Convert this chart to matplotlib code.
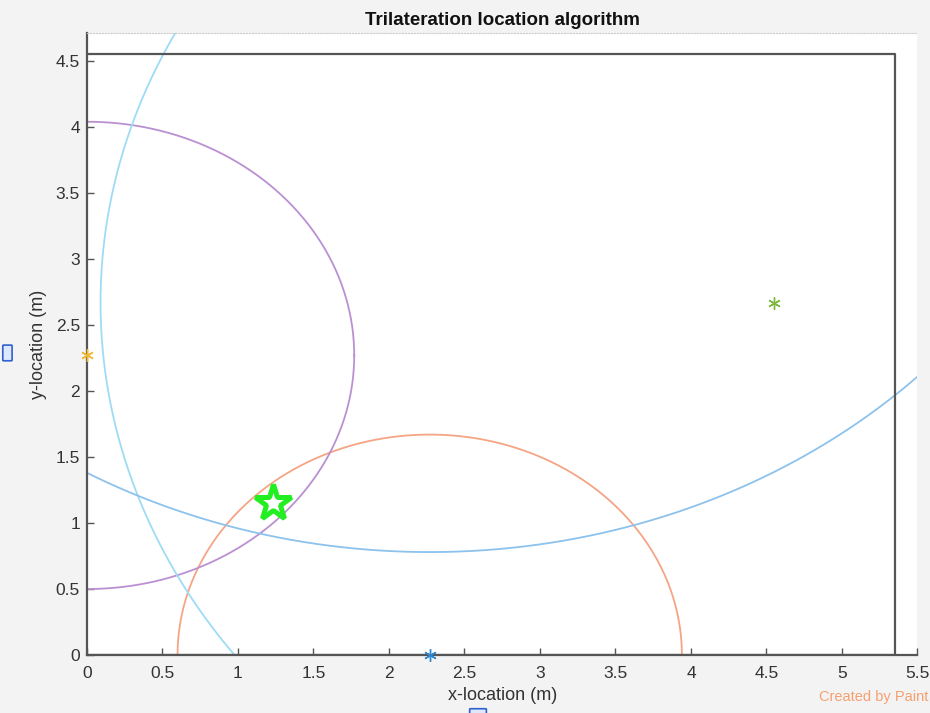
import numpy as np
import matplotlib
matplotlib.use("Agg")
import matplotlib.pyplot as plt
from matplotlib.patches import FancyBboxPatch

plt.rcParams['font.family'] = ['Liberation Sans Narrow', 'Liberation Sans', 'DejaVu Sans']

# Anchors (x, y) and measured ranges (circle radii)
anchor_x = [2.27, 0.00, 4.55, 2.27]
anchor_y = [0.00, 2.27, 2.67, 5.37]
radii = [1.67, 1.77, 4.46, 4.59]
anchor_colors = ['#2f86d0', '#f0b830', '#7fb840', None]
circle_colors = ['#f5a585', '#bb90d2', '#9edcf6', '#8cc2ec']

# Estimated position
est_x, est_y = 1.23, 1.15

# Room boundary
room_w, room_h = 5.35, 4.55

xticks = [0, 0.5, 1, 1.5, 2, 2.5, 3, 3.5, 4, 4.5, 5, 5.5]
yticks = [0, 0.5, 1, 1.5, 2, 2.5, 3, 3.5, 4, 4.5]

fig = plt.figure(figsize=(9.3, 7.13), dpi=100, facecolor='#f3f3f3')
ax = fig.add_axes([0.0935, 0.0813, 0.893, 0.872])
ax.set_facecolor('white')

theta = np.linspace(0, 2 * np.pi, 1000)
for cx, cy, r, cc in zip(anchor_x, anchor_y, radii, circle_colors):
    ax.plot(cx + r * np.cos(theta), cy + r * np.sin(theta), color=cc, lw=1.3)

asterisk = (6, 2, 0)
for cx, cy, ac in zip(anchor_x, anchor_y, anchor_colors):
    if ac is not None:
        ax.plot(cx, cy, marker=asterisk, color=ac, ms=9, mew=1.0, clip_on=False, zorder=5)

# room rectangle
ax.plot([0, room_w, room_w, 0], [room_h, room_h, 0, 0], color='#555555', lw=1.6, zorder=4)

ax.plot(est_x, est_y, marker='*', ms=27, mfc='none', mec='#22ee22', mew=3.6, zorder=6)

ax.set_xlim(0, 5.5)
ax.set_ylim(0, 4.71)
ax.set_xticks(xticks)
ax.set_xticklabels([f'{t:g}' for t in xticks])
ax.set_yticks(yticks)
ax.set_yticklabels([f'{t:g}' for t in yticks])
ax.tick_params(direction='in', length=5, width=1, colors='#555555', labelcolor='#333333', labelsize=12.5)
ax.tick_params(axis='x', pad=8)
ax.tick_params(axis='y', pad=5)

for s in ['left', 'bottom']:
    ax.spines[s].set_color('#555555')
    ax.spines[s].set_linewidth(1.6)
ax.spines['right'].set_visible(False)
ax.spines['top'].set_color('#cccccc')
ax.spines['top'].set_linestyle(':')
ax.spines['top'].set_linewidth(0.8)

ax.set_title('Trilateration location algorithm', fontsize=13.5, fontweight='bold', color='#111111', pad=6)
ax.set_xlabel('x-location (m)', fontsize=13, color='#333333', labelpad=4)
ax.set_ylabel('y-location (m)', fontsize=13, color='#333333', labelpad=6)

fig.text(0.998, 0.012, 'Created by Paint', ha='right', va='bottom', fontsize=10.5, color='#f5a070')

# selection handles
fig.patches.append(FancyBboxPatch((0.004, 0.495), 0.008, 0.02, boxstyle='round,pad=0.001',
                                  transform=fig.transFigure, fc='#dde8ff', ec='#3060d0', lw=1.2))
fig.patches.append(FancyBboxPatch((0.506, -0.01), 0.016, 0.015, boxstyle='round,pad=0.001',
                                  transform=fig.transFigure, fc='#dde8ff', ec='#3060d0', lw=1.2))

fig.savefig('out.png', dpi=100, facecolor=fig.get_facecolor())
